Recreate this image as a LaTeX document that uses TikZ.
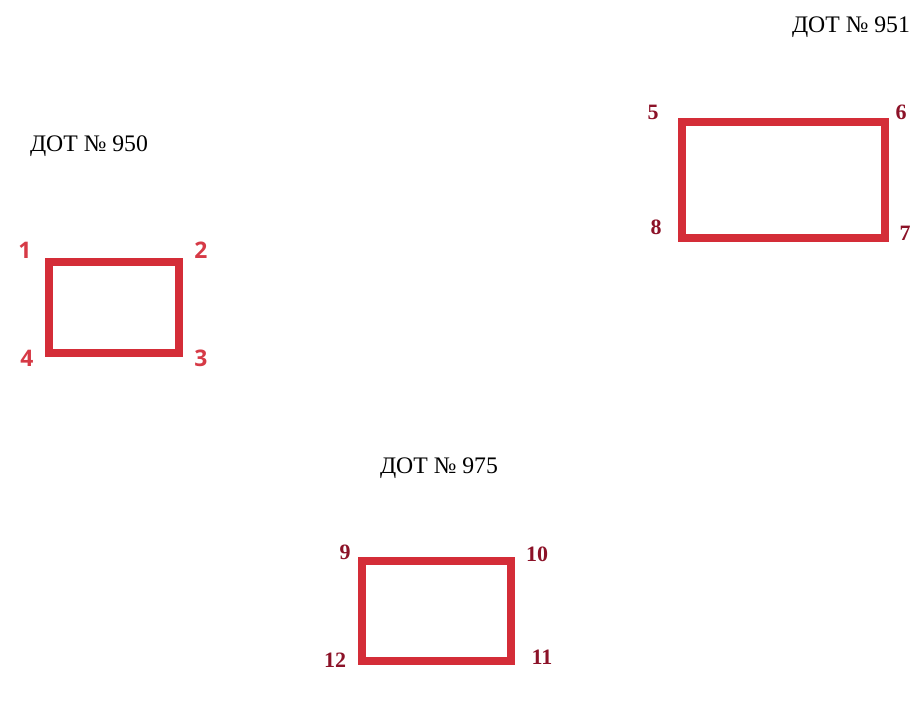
\documentclass[tikz,border=0pt]{standalone}
\usepackage{fontspec}
\setmainfont{Liberation Serif}
\newfontfamily\labsans{Open Sans}
\definecolor{boxred}{RGB}{212,45,56}
\definecolor{numred}{RGB}{214,58,70}
\definecolor{darknum}{RGB}{140,18,40}
\begin{document}
\begin{tikzpicture}[
  x=0.02cm, y=-0.02cm,
  dot/.style={draw=boxred, line width=4.5pt, line join=miter},
  title/.style={font=\fontsize{13.5}{15}\selectfont, text=black, inner sep=0pt},
  cornerA/.style={font=\labsans\bfseries\fontsize{13}{15}\selectfont, text=numred, inner sep=0pt},
  cornerB/.style={font=\bfseries\fontsize{12.5}{14}\selectfont, text=darknum, inner sep=0pt}
]
\useasboundingbox (0,0) rectangle (914,709);

% DOT 950
\node[title] (t950) at (89,146) {ДОТ № 950};
\coordinate (p1) at (49,262);
\coordinate (p2) at (179,262);
\coordinate (p3) at (179,353);
\coordinate (p4) at (49,353);
\draw[dot] (p1) -- (p2) -- (p3) -- (p4) -- cycle;
\node[cornerA] (n1) at (25,250) {1};
\node[cornerA] (n2) at (201,250) {2};
\node[cornerA] (n3) at (201,358) {3};
\node[cornerA] (n4) at (27,358) {4};

% DOT 951
\node[title] (t951) at (851,27) {ДОТ № 951};
\coordinate (p5) at (682,122);
\coordinate (p6) at (885,122);
\coordinate (p7) at (885,238);
\coordinate (p8) at (682,238);
\draw[dot] (p5) -- (p6) -- (p7) -- (p8) -- cycle;
\node[cornerB] (n5) at (653,112) {5};
\node[cornerB] (n6) at (901,112) {6};
\node[cornerB] (n7) at (905,233) {7};
\node[cornerB] (n8) at (656,227) {8};

% DOT 975
\node[title] (t975) at (439,468) {ДОТ № 975};
\coordinate (p9) at (362,561);
\coordinate (p10) at (511,561);
\coordinate (p11) at (511,661);
\coordinate (p12) at (362,661);
\draw[dot] (p9) -- (p10) -- (p11) -- (p12) -- cycle;
\node[cornerB] (n9) at (345,552) {9};
\node[cornerB] (n10) at (537,554) {10};
\node[cornerB] (n11) at (542,657) {11};
\node[cornerB] (n12) at (335,660) {12};
\end{tikzpicture}
\end{document}
